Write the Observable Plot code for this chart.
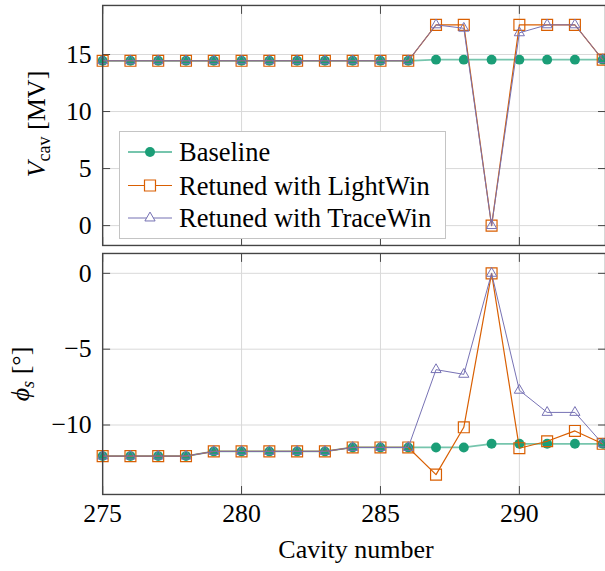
<!DOCTYPE html>
<html><head><meta charset="utf-8">
<script src="https://cdn.jsdelivr.net/npm/d3@7"></script>
<script src="https://cdn.jsdelivr.net/npm/@observablehq/plot@0.6"></script>
<style>
html,body{margin:0;padding:0;background:#fff;overflow:hidden;width:605px;height:571px;}
#wrap{position:relative;width:605px;height:571px;overflow:hidden;font-family:"Liberation Serif","Times New Roman",serif;}
#wrap svg{display:block}
#overlay{position:absolute;left:0;top:0;pointer-events:none}
</style></head><body><div id="wrap"></div>
<script>
// ---- data ----
const cavities   = [275,276,277,278,279,280,281,282,283,284,285,286,287,288,289,290,291,292,293];
const vBaseline  = [14.45,14.45,14.45,14.45,14.45,14.45,14.45,14.45,14.45,14.45,14.45,14.45,14.55,14.55,14.55,14.55,14.55,14.55,14.55];
const vLightWin  = [14.45,14.45,14.45,14.45,14.45,14.45,14.45,14.45,14.45,14.45,14.45,14.45,17.6,17.6,0,17.6,17.6,17.6,14.55];
const vTraceWin  = [14.45,14.45,14.45,14.45,14.45,14.45,14.45,14.45,14.45,14.45,14.45,14.45,17.6,17.3,0,16.9,17.6,17.6,14.55];
const phiBaseline = [-12.05,-12.05,-12.05,-12.05,-11.74,-11.74,-11.74,-11.74,-11.74,-11.48,-11.48,-11.48,-11.48,-11.48,-11.24,-11.24,-11.24,-11.24,-11.24];
const phiLightWin = [-12.05,-12.05,-12.05,-12.05,-11.74,-11.74,-11.74,-11.74,-11.74,-11.48,-11.48,-11.48,-13.27,-10.15,0,-11.53,-11.07,-10.39,-11.24];
const phiTraceWin = [-12.05,-12.05,-12.05,-12.05,-11.74,-11.74,-11.74,-11.74,-11.74,-11.48,-11.48,-11.48,-6.35,-6.66,0,-7.71,-9.17,-9.17,-11.24];
const xTicks = [275,280,285,290];
const vTicks = [0,5,10,15];
const phiTicks = [-10,-5,0];
const seriesNames = ["Baseline","Retuned with LightWin","Retuned with TraceWin"];

// ---- style ----
const cGreen = "#1b9e77", cOrange = "#d95f02", cPurple = "#7570b3";
const FONT = "Liberation Serif, Times New Roman, serif";
const FS = 26;
const LFS = 26.5;
const frameColor = "#444444";
const gridColor = "#d9d9d9";
const W = 610, ML = 103;

const rows = (ys) => cavities.map((c, i) => ({x: c, y: ys[i]}));

function seriesMarks(b, l, t) {
  return [
    Plot.line(rows(b), {x: "x", y: "y", stroke: cGreen, strokeOpacity: 0.6, strokeWidth: 1.8}),
    Plot.dot(rows(b), {x: "x", y: "y", r: 5, fill: cGreen, stroke: "none"}),
    Plot.line(rows(l), {x: "x", y: "y", stroke: cOrange, strokeWidth: 1.2}),
    Plot.dot(rows(l), {x: "x", y: "y", symbol: "square", r: 6.2, fill: "none", stroke: cOrange, strokeWidth: 1.2}),
    Plot.line(rows(t), {x: "x", y: "y", stroke: cPurple, strokeWidth: 1}),
    Plot.dot(rows(t), {x: "x", y: "y", symbol: "triangle", r: 3.8, fill: "none", stroke: cPurple, strokeWidth: 1})
  ];
}

function frameMarks(yTicks, showX) {
  const blank = () => "";
  return [
    Plot.gridX(xTicks, {stroke: gridColor, strokeOpacity: 1, strokeWidth: 1}),
    Plot.gridY(yTicks, {stroke: gridColor, strokeOpacity: 1, strokeWidth: 1}),
    Plot.axisY(yTicks, {anchor: "left", tickSize: 0, tickPadding: 11, fontSize: FS, label: null}),
    Plot.axisY(yTicks, {anchor: "left", tickSize: -8, tickFormat: blank, label: null, stroke: frameColor}),
    Plot.axisY(yTicks, {anchor: "right", tickSize: -8, tickFormat: blank, label: null, stroke: frameColor}),
    Plot.axisX(xTicks, {anchor: "top", tickSize: -8, tickFormat: blank, label: null, stroke: frameColor}),
    Plot.axisX(xTicks, {anchor: "bottom", tickSize: -8, tickFormat: blank, label: null, stroke: frameColor}),
    ...(showX ? [Plot.axisX(xTicks, {anchor: "bottom", tickSize: 0, tickPadding: 9.5, fontSize: FS, label: null})] : [])
  ];
}

const topPlot = Plot.plot({
  width: W, height: 252, marginTop: 5, marginBottom: 5, marginLeft: ML, marginRight: 0,
  style: {fontFamily: FONT, fontSize: FS + "px", color: "#000", background: "transparent", overflow: "visible"},
  x: {domain: [275, 293.1]},
  y: {domain: [-1.74, 19.3]},
  marks: [
    ...frameMarks(vTicks, false),
    ...seriesMarks(vBaseline, vLightWin, vTraceWin),
    Plot.frame({stroke: frameColor, strokeWidth: 1.4})
  ]
});

const bottomPlot = Plot.plot({
  width: W, height: 319, marginTop: 3, marginBottom: 73, marginLeft: ML, marginRight: 0,
  style: {fontFamily: FONT, fontSize: FS + "px", color: "#000", background: "transparent", overflow: "visible"},
  x: {domain: [275, 293.1]},
  y: {domain: [-14.58, 1.31]},
  marks: [
    ...frameMarks(phiTicks, true),
    ...seriesMarks(phiBaseline, phiLightWin, phiTraceWin),
    Plot.frame({stroke: frameColor, strokeWidth: 1.4})
  ]
});

const wrap = document.getElementById("wrap");
wrap.appendChild(topPlot);
wrap.appendChild(bottomPlot);

// ---- overlay: axis labels and legend ----
const ov = d3.select(wrap).append("svg").attr("id", "overlay")
  .attr("width", 605).attr("height", 571)
  .style("font-family", FONT);

const t1 = ov.append("text").attr("transform", "translate(45,124) rotate(-90)")
  .attr("text-anchor", "middle").attr("font-size", FS);
t1.append("tspan").attr("font-style", "italic").text("V");
t1.append("tspan").attr("font-size", 18).attr("dy", 5).text("cav");
t1.append("tspan").attr("dy", -5).text(" [MV]");

const t2 = ov.append("text").attr("transform", "translate(29,374) rotate(-90)")
  .attr("text-anchor", "middle").attr("font-size", FS);
t2.append("tspan").attr("font-style", "italic").text("ϕ");
t2.append("tspan").attr("font-style", "italic").attr("font-size", 18).attr("dy", 5).text("s");
t2.append("tspan").attr("dy", -5).text(" [°]");

ov.append("text").attr("x", 356).attr("y", 558).attr("text-anchor", "middle")
  .attr("font-size", FS).text("Cavity number");

const lg = ov.append("g");
lg.append("rect").attr("x", 119.5).attr("y", 131.5).attr("width", 326).attr("height", 107)
  .attr("fill", "#fff").attr("stroke", "#c4c4c4").attr("stroke-width", 1);
const legendStyles = [
  {stroke: cGreen, op: 0.6, lw: 1.8, sym: d3.symbolCircle, r: 5, fill: cGreen, mstroke: "none", mw: 0},
  {stroke: cOrange, op: 1, lw: 1.2, sym: d3.symbolSquare, r: 6.2, fill: "#fff", mstroke: cOrange, mw: 1.2},
  {stroke: cPurple, op: 1, lw: 1, sym: d3.symbolTriangle, r: 3.8, fill: "#fff", mstroke: cPurple, mw: 1}
];
const ly = [152, 185.5, 218];
seriesNames.forEach((name, i) => {
  const s = legendStyles[i];
  lg.append("line").attr("x1", 128).attr("x2", 172).attr("y1", ly[i]).attr("y2", ly[i])
    .attr("stroke", s.stroke).attr("stroke-opacity", s.op).attr("stroke-width", s.lw);
  lg.append("path").attr("transform", `translate(150,${ly[i]})`)
    .attr("d", d3.symbol(s.sym, Math.PI * s.r * s.r)())
    .attr("fill", s.fill).attr("stroke", s.mstroke).attr("stroke-width", s.mw);
  lg.append("text").attr("x", 179).attr("y", ly[i] + 9).attr("font-size", LFS).text(name);
});
</script></body></html>
